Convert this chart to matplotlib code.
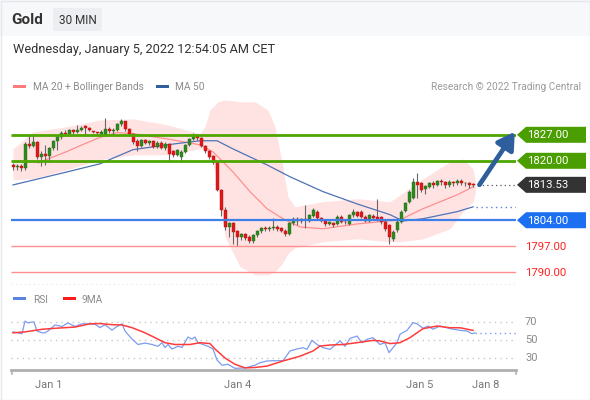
import matplotlib
matplotlib.use("Agg")
import matplotlib.pyplot as plt
from matplotlib.patches import Polygon, Rectangle, FancyBboxPatch
from matplotlib.transforms import blended_transform_factory
import numpy as np

plt.rcParams['font.family'] = ['Roboto', 'DejaVu Sans']

# ---------------- data ----------------
opens = [1818.8,1818.2,1818.7,1818.0,1824.6,1823.9,1825.0,1821.0,1821.8,1821.2,
         1823.5,1825.2,1826.4,1827.6,1827.3,1828.2,1827.7,1828.3,1829.3,1828.7,
         1827.9,1827.6,1827.3,1827.0,1828.6,1828.0,1828.4,1829.8,1830.6,1828.5,
         1827.2,1825.4,1824.0,1825.5,1824.9,1825.3,1823.8,1824.8,1823.5,1824.5,
         1822.6,1821.6,1821.0,1822.4,1824.2,1825.8,1826.6,1826.2,1824.0,1822.6,
         1821.2,1819.6,1812.2,1806.8,1802.2,1803.2,1801.0,1799.5,1800.2,1799.6,
         1798.4,1800.0,1801.0,1801.8,1801.6,1801.8,1802.2,1801.8,1801.2,1800.2,
         1803.2,1804.4,1803.8,1804.2,1803.8,1805.2,1806.3,1804.6,1803.8,1803.0,
         1803.2,1803.0,1805.0,1803.6,1803.0,1805.4,1806.2,1806.3,1805.0,1803.8,
         1805.2,1805.0,1804.8,1803.6,1802.6,1799.0,1801.3,1803.6,1806.6,1809.0,
         1810.0,1814.3,1814.0,1812.4,1813.0,1814.0,1813.6,1814.5,1814.2,1813.6,
         1814.2,1814.0,1814.6,1813.9,1814.0,1813.8]
highs = [1819.4,1819.2,1819.2,1825.0,1827.0,1827.0,1825.4,1822.6,1824.2,1823.8,
         1825.6,1826.8,1828.0,1828.2,1828.6,1828.6,1829.6,1829.4,1829.7,1829.0,
         1828.0,1827.8,1828.2,1831.5,1829.0,1828.9,1830.2,1831.3,1830.8,1828.9,
         1827.5,1825.8,1825.8,1826.0,1825.7,1825.6,1825.2,1825.2,1825.0,1824.8,
         1823.0,1823.2,1822.8,1824.6,1826.2,1827.4,1827.0,1826.5,1824.3,1822.9,
         1821.6,1819.9,1812.4,1807.5,1803.6,1803.4,1801.4,1800.6,1800.5,1800.0,
         1800.3,1801.3,1802.2,1802.4,1802.5,1804.5,1802.6,1802.3,1801.6,1803.5,
         1804.8,1804.8,1804.6,1808.0,1805.8,1807.2,1806.7,1805.0,1804.2,1803.8,
         1803.6,1805.4,1805.4,1804.0,1805.8,1807.0,1806.6,1806.8,1805.4,1805.8,
         1805.6,1809.6,1805.2,1804.0,1803.0,1801.3,1804.0,1806.7,1809.0,1812.2,
         1815.5,1816.8,1814.4,1813.6,1814.4,1814.5,1814.9,1815.0,1814.6,1814.8,
         1814.6,1815.0,1815.0,1814.4,1814.4,1814.1]
lows = [1817.6,1817.4,1817.3,1817.6,1823.5,1823.6,1820.5,1818.6,1818.8,1819.8,
        1823.0,1822.8,1826.0,1826.8,1826.6,1827.2,1827.4,1827.9,1826.8,1828.0,
        1827.6,1827.3,1827.0,1826.8,1827.4,1826.9,1828.0,1829.4,1828.0,1826.8,
        1824.6,1822.6,1823.6,1824.5,1824.2,1823.4,1823.4,1823.1,1823.0,1820.0,
        1821.0,1821.2,1819.8,1822.0,1823.9,1825.5,1825.6,1823.6,1822.2,1820.6,
        1819.2,1811.8,1805.2,1801.5,1799.5,1797.6,1797.0,1798.8,1798.6,1797.8,
        1798.0,1799.6,1800.6,1801.0,1801.2,1801.5,1801.2,1800.8,1799.8,1799.9,
        1802.8,1802.6,1803.2,1801.8,1803.4,1804.8,1804.2,1803.4,1802.5,1802.6,
        1802.2,1802.6,1803.2,1803.0,1802.6,1805.0,1804.8,1804.6,1803.4,1803.4,
        1804.2,1803.8,1803.0,1801.2,1797.6,1798.4,1800.9,1803.2,1806.2,1808.6,
        1809.6,1810.0,1811.6,1811.0,1812.6,1812.8,1813.2,1813.4,1812.8,1813.0,
        1813.2,1813.4,1813.4,1813.2,1812.8,1812.9]
closes = [1818.2,1818.7,1818.0,1824.6,1823.9,1825.0,1821.0,1821.8,1821.2,1823.5,
          1825.2,1826.4,1827.6,1827.3,1828.2,1827.7,1828.3,1828.9,1828.7,1828.4,
          1827.8,1827.5,1827.8,1828.6,1828.0,1828.4,1829.8,1830.6,1828.5,1827.2,
          1825.0,1824.0,1825.5,1824.9,1825.3,1823.8,1824.8,1823.5,1824.5,1821.8,
          1821.6,1822.8,1822.4,1824.2,1825.8,1826.6,1826.2,1824.0,1822.6,1821.0,
          1819.6,1812.2,1806.8,1802.2,1803.2,1800.9,1799.5,1800.2,1799.2,1798.4,
          1800.0,1801.0,1801.8,1801.6,1802.0,1802.2,1801.6,1801.2,1800.2,1803.2,
          1804.4,1803.8,1804.2,1804.0,1805.4,1806.8,1804.6,1803.8,1802.9,1803.4,
          1802.6,1805.0,1803.6,1803.4,1805.4,1806.3,1805.2,1805.0,1803.8,1805.4,
          1804.6,1804.2,1803.4,1801.6,1799.4,1800.9,1803.6,1806.3,1808.6,1811.7,
          1814.3,1813.5,1812.2,1813.2,1814.0,1813.6,1814.5,1814.2,1813.5,1814.3,
          1814.0,1814.6,1813.9,1814.1,1813.4,1813.53]

# Bollinger band envelope (bar index, upper, lower)
band_x = [0, 5, 13.5, 21.75, 30, 38.5, 46.75, 48, 49.25, 51.25, 53, 56.75, 60.5,
          63.75, 65.5, 67.25, 68.75, 70.5, 77.5, 86, 94.25, 96.75, 102.5, 109.25,
          112.5, 115, 115.6]
band_up = [1823.2, 1827.8, 1829.2, 1831.0, 1831.3, 1829.7, 1827.3, 1829.2, 1833.7,
           1835.9, 1836.4, 1835.9, 1835.9, 1833.7, 1829.2, 1819.7, 1810.3, 1807.6,
           1809.0, 1809.8, 1809.0, 1810.8, 1815.2, 1819.7, 1820.5, 1817.8, 1814.5]
band_lo = [1814.9, 1815.2, 1817.6, 1820.3, 1821.6, 1821.6, 1823.2, 1823.0, 1822.4,
           1813.0, 1799.5, 1791.5, 1789.3, 1789.3, 1790.1, 1792.3, 1795.0, 1796.6,
           1798.2, 1799.0, 1798.2, 1798.2, 1799.0, 1801.7, 1806.3, 1809.0, 1811.5]

ma20_x = [6.25, 8.75, 13.5, 17.25, 21.75, 26, 30, 38.5, 46.75, 50, 55, 59.25,
          63.5, 67.5, 71.75, 77.5, 86, 96.75, 102.5, 111, 115]
ma20 = [1819.4, 1820.5, 1822.5, 1824.3, 1826.3, 1827.6, 1827.3, 1825.9, 1824.3,
        1822.4, 1817.0, 1811.7, 1807.1, 1804.4, 1802.2, 1801.7, 1803.0, 1804.1,
        1807.1, 1810.8, 1813.0]

ma50_x = [0, 13.5, 21.75, 30, 38.5, 46.75, 51, 55, 63.5, 69.25, 77.5, 86, 94.25,
          97.5, 102.5, 111, 115]
ma50 = [1813.5, 1817.0, 1819.2, 1823.0, 1824.3, 1825.4, 1825.4, 1823.2, 1818.9,
        1815.7, 1811.7, 1808.4, 1805.5, 1803.8, 1804.4, 1806.3, 1807.6]

levels = [1827.00, 1820.00, 1804.00, 1797.00, 1790.00]
level_kinds = ['res', 'res', 'sup', 'minor', 'minor']
last_price = 1813.53
target_price = 1827.8

rsi_x = [0, 2.25, 3, 3.75, 4.75, 5.25, 6, 7.25, 8, 8.75, 10.5, 12.25, 13.75, 15.5,
         17.25, 18.75, 20.5, 21.75, 23, 24.75, 26, 27.25, 28, 29.75, 31.25, 33,
         34.75, 36.25, 37.25, 38, 38.75, 39.75, 41.25, 42.25, 43.75, 44.75, 45.5,
         46.25, 48.75, 50, 51, 52.25, 53.75, 55.5, 58, 60.5, 61.75, 63.5, 65, 67.5,
         69.25, 71, 72.5, 73.5, 74.75, 76, 77.5, 79.25, 81.75, 83, 84.25, 86, 87.25,
         88.5, 90, 91.75, 93, 94, 96, 96.75, 98.5, 100, 101, 102.5, 103.75, 105,
         106.75, 108.5, 110, 111.75, 113.5, 114.75, 115.5]
rsi = [59, 57, 71, 69, 70, 70, 60, 58, 58, 60, 66.7, 65, 69, 65, 68, 68, 67.5, 63.7,
       67, 61, 65, 68, 60, 51, 45, 46.6, 45, 43, 47, 41.7, 45, 40, 43, 41.7, 53.3,
       51, 53.3, 47, 43, 40, 27.8, 22, 23, 18.5, 19, 22, 24.8, 26.7, 27, 27, 37.8,
       40, 41.5, 39.6, 49.6, 45, 41.5, 39.6, 49, 43, 51.8, 54.4, 47, 50.8, 52.6, 45,
       47, 36, 47, 56.3, 60.7, 69.3, 68, 63, 65.5, 62, 65.5, 63.6, 62, 60.7, 60, 57, 58]

ma9_x = [0, 3, 7.25, 10.5, 15.5, 19.25, 21.75, 24.75, 27.25, 29.75, 33, 35.5, 38,
         40.5, 44.25, 46.75, 49.25, 50.5, 53, 55.5, 58, 60.5, 63.5, 67.5, 71.75,
         75, 76.75, 79.25, 82.5, 86, 90, 91.75, 94.25, 96.75, 99.25, 102.5, 106,
         109.25, 111.75, 115]
ma9 = [58, 59, 61.9, 63, 64.4, 68, 68.3, 67, 66.7, 63.7, 58, 52.6, 47, 45, 45, 47,
       46, 40, 30, 23, 19, 19.5, 21, 26.7, 32, 37.8, 43.3, 44.4, 45, 47, 49.6, 49,
       46, 47, 52.6, 62.6, 65.5, 63.6, 63.6, 60.7]

tick_pos = [9, 56.25, 101.75, 118.25]
tick_labels = ['Jan 1', 'Jan 4', 'Jan 5', 'Jan 8']
rsi_levels = [70, 50, 30]

# ---------------- layout helpers ----------------
W, H = 590, 400
fig = plt.figure(figsize=(W / 100, H / 100), dpi=100)
fig.patch.set_facecolor('white')

def fx(px):
    return px / W

def fy(py):
    return 1 - py / H

TX = 1.5  # text baseline correction in pixels

# header background
fig.patches.append(Rectangle((0, fy(36)), 1, fy(0) - fy(36), transform=fig.transFigure,
                             facecolor='#f7f8fa', edgecolor='none', zorder=0))
fig.patches.append(Rectangle((fx(0.5), fy(399.5)), fx(589), fy(0.5) - fy(399.5),
                             transform=fig.transFigure, facecolor='none',
                             edgecolor='#e6e8eb', lw=1, zorder=0))
fig.patches.append(FancyBboxPatch((fx(53), fy(31)), fx(49), fy(8) - fy(31),
                                  boxstyle='round,pad=0,rounding_size=0.004',
                                  transform=fig.transFigure, facecolor='#eceef1',
                                  edgecolor='none', zorder=1))
fig.text(fx(11), fy(19 + TX), 'Gold', fontsize=11, fontweight='bold', color='#333333',
         va='center', ha='left')
fig.text(fx(77.5), fy(19 + TX), '30 MIN', fontsize=8.5, color='#333333', va='center', ha='center')
fig.text(fx(13), fy(48 + TX), 'Wednesday, January 5, 2022 12:54:05 AM CET', fontsize=9.2,
         color='#333333', va='center', ha='left')

# legends
fig.patches.append(Rectangle((fx(13), fy(88)), fx(13), fy(85) - fy(88), transform=fig.transFigure,
                             facecolor='#ff7b7b', edgecolor='none'))
fig.text(fx(33), fy(86 + TX), 'MA 20 + Bollinger Bands', fontsize=7.3, color='#8a8a8a', va='center')
fig.patches.append(Rectangle((fx(156), fy(88)), fx(13), fy(85) - fy(88), transform=fig.transFigure,
                             facecolor='#2f5f9f', edgecolor='none'))
fig.text(fx(175), fy(86 + TX), 'MA 50', fontsize=7.3, color='#8a8a8a', va='center')
fig.text(fx(581), fy(86 + TX), 'Research © 2022 Trading Central', fontsize=7.3, color='#9a9a9a',
         va='center', ha='right')

fig.patches.append(Rectangle((fx(13), fy(300)), fx(13), fy(297) - fy(300), transform=fig.transFigure,
                             facecolor='#5b84e0', edgecolor='none'))
fig.text(fx(33), fy(298.5 + TX), 'RSI', fontsize=7.3, color='#8a8a8a', va='center')
fig.patches.append(Rectangle((fx(63), fy(300)), fx(13), fy(297) - fy(300), transform=fig.transFigure,
                             facecolor='#ff1a1a', edgecolor='none'))
fig.text(fx(82), fy(298.5 + TX), '9MA', fontsize=7.3, color='#8a8a8a', va='center')

# ---------------- main price axes ----------------
px_per_bar = 4.0
x0_px = 13
def bar_lim(pxl, pxr):
    return ((pxl - x0_px) / px_per_bar, (pxr - x0_px) / px_per_bar)

ax_l, ax_r = 11, 516
ax = fig.add_axes([fx(ax_l), fy(286.8), fx(ax_r - ax_l), fy(96.8) - fy(286.8)])
ax.set_xlim(*bar_lim(ax_l, ax_r))
ppd = 3.714  # pixels per dollar
ax.set_ylim(1827 - (285 - 133) / ppd, 1827 + (133 - 95) / ppd)
ax.axis('off')
ax.set_facecolor('none')

ax.fill_between(band_x, band_lo, band_up, color='#ffe3e3', lw=0, zorder=1)
ax.plot(ma20_x, ma20, color='#ff8f8f', lw=0.9, zorder=3)
ax.plot(ma50_x, ma50, color='#4f72b5', lw=0.9, zorder=3)

n = len(closes)
xs = np.arange(n)
o = np.array(opens); c = np.array(closes); h = np.array(highs); l = np.array(lows)
up = c >= o
ax.vlines(xs, l, h, color='#666666', lw=0.8, zorder=4)
body_h = np.where(np.abs(c - o) < 0.25, 0.25, np.abs(c - o))
body_b = np.minimum(o, c)
ax.bar(xs[up], body_h[up], bottom=body_b[up], width=0.75, color='#2b8a1c',
       edgecolor='#2b6a1c', lw=0.3, zorder=5)
ax.bar(xs[~up], body_h[~up], bottom=body_b[~up], width=0.75, color='#e01818',
       edgecolor='#b81010', lw=0.3, zorder=5)

xl = ax.get_xlim()
kind_style = {'res': ('#4ea600', 2.0), 'sup': ('#3f7fe8', 1.6), 'minor': ('#ff8f8f', 1.0)}
for lev, kind in zip(levels, level_kinds):
    col, lw = kind_style[kind]
    ax.hlines(lev, xl[0] - 0.1, xl[1], color=col, lw=lw, zorder=6)

# dotted extensions
ax.hlines(last_price, n + 0.2, xl[1], color='#555555', lw=0.9, linestyles=(0, (1, 2.5)), zorder=6)
ax.hlines(ma50[-1], n - 0.2, xl[1], color='#5b84e0', lw=1.0, linestyles=(0, (1, 2.5)), zorder=6)

# forecast arrow
ax.annotate('', xy=(xl[1] - 0.3, target_price), xytext=(n + 0.6, last_price),
            arrowprops=dict(arrowstyle='-|>,head_length=1.0,head_width=0.6', color='#2e5f9c',
                            lw=3.4, shrinkA=0, shrinkB=0), zorder=7)

# right-side tags
tr = blended_transform_factory(fig.transFigure, ax.transData)
dpp = 1 / ppd  # dollars per pixel
tag_style = {'res': '#4a9e00', 'sup': '#1d6ff2', 'last': '#333333'}
tags = [(levels[0], 'res'), (levels[1], 'res'), (last_price, 'last'), (levels[2], 'sup')]
for val, kind in tags:
    hh = 8 * dpp
    poly = Polygon([(fx(517), val), (fx(526), val + hh), (fx(586), val + hh),
                    (fx(586), val - hh), (fx(526), val - hh)], closed=True,
                   transform=tr, facecolor=tag_style[kind], edgecolor='none', clip_on=False)
    ax.add_patch(poly)
    ax.text(fx(527), val - 0.4 * dpp, f'{val:.2f}', transform=tr, color='white', fontsize=8.2,
            va='center', ha='left', clip_on=False)
for val in levels[3:]:
    ax.text(fx(525), val - 0.4 * dpp, f'{val:.2f}', transform=tr, color='#ff2020', fontsize=8.2,
            va='center', ha='left', clip_on=False)

# ---------------- RSI axes ----------------
r_top_px, r_bot_px = 311, 370
rp = 0.9  # pixels per RSI unit
rax = fig.add_axes([fx(ax_l), fy(r_bot_px), fx(ax_r - ax_l), fy(r_top_px) - fy(r_bot_px)])
rax.set_xlim(*bar_lim(ax_l, ax_r))
rax.set_ylim(50 - (369 - 339) / rp, 50 + (339 - 310) / rp)
rax.axis('off')
for lv in rsi_levels:
    rax.hlines(lv, *rax.get_xlim(), color='#c8c8c8', lw=1.0, linestyles=(0, (1, 3)), zorder=1)
    rax.text(fx(525), lv, str(lv), transform=blended_transform_factory(fig.transFigure, rax.transData),
             fontsize=8, color='#8a8a8a', va='center', ha='left', clip_on=False)
rax.plot(rsi_x, rsi, color='#7b9cf0', lw=0.9, zorder=3)
rax.plot(ma9_x, ma9, color='#ff3b3b', lw=1.1, zorder=4)
rax.hlines(rsi[-1], rsi_x[-1], rax.get_xlim()[1], color='#7b9cf0', lw=1.0,
           linestyles=(0, (1, 2.5)), zorder=3)

# separator dotted line
fig.lines.append(plt.Line2D([fx(11), fx(516)], [fy(284), fy(284)], transform=fig.transFigure,
                            color='#e6e6e6', lw=0.8, linestyle=(0, (1, 3))))

# time axis
fig.lines.append(plt.Line2D([fx(11), fx(516)], [fy(369.5), fy(369.5)], transform=fig.transFigure,
                            color='#b0b0b0', lw=2.0))
for xe in (11.5, 515.5):
    fig.lines.append(plt.Line2D([fx(xe), fx(xe)], [fy(369.5), fy(373.5)], transform=fig.transFigure,
                                color='#b0b0b0', lw=1.2))
tt = blended_transform_factory(rax.transData, fig.transFigure)
for p, lab in zip(tick_pos, tick_labels):
    rax.text(p, fy(383 + TX), lab, transform=tt, fontsize=8, color='#777777', ha='center',
             va='center', clip_on=False)

fig.savefig('out.png', dpi=100, facecolor='white')
